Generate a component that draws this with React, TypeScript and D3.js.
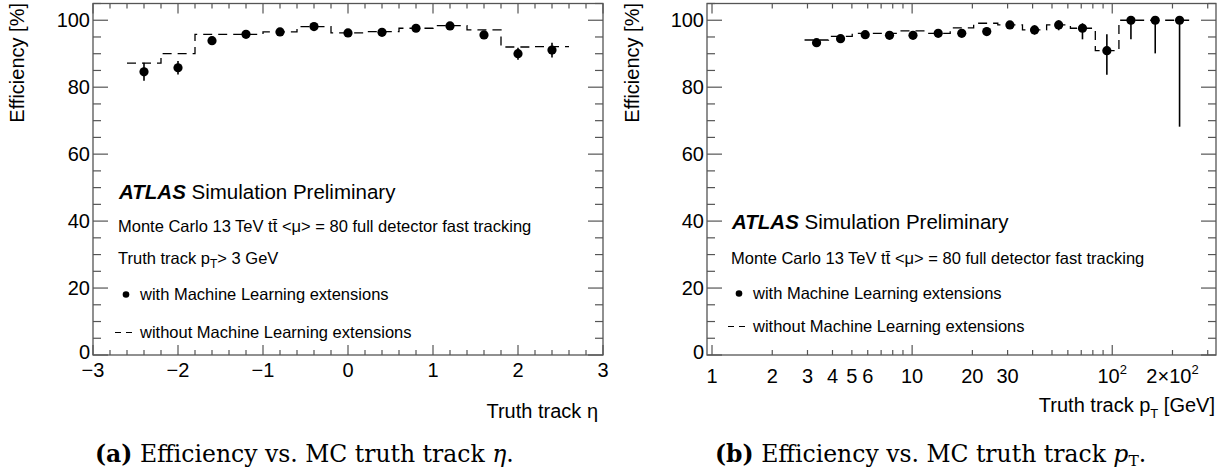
import * as d3 from "d3";

// ---- data ----
// (a) efficiency vs eta
const etaEdges = [-2.6, -2.2, -1.8, -1.4, -1.0, -0.6, -0.2, 0.2, 0.6, 1.0, 1.4, 1.8, 2.2, 2.6];
const etaCenters = [-2.4, -2.0, -1.6, -1.2, -0.8, -0.4, 0, 0.4, 0.8, 1.2, 1.6, 2.0, 2.4];
const etaEffML = [84.6, 85.8, 93.9, 95.8, 96.5, 98.1, 96.2, 96.4, 97.6, 98.3, 95.6, 90.0, 91.1];
const etaErrML = [2.7, 2.0, 1.0, 0.6, 0.6, 0.5, 0.5, 0.5, 0.5, 0.5, 0.7, 1.8, 2.2];
const etaEffNoML = [87.2, 90.0, 95.8, 95.8, 96.5, 98.1, 96.2, 96.6, 97.6, 98.4, 97.1, 92.0, 92.1];

// (b) efficiency vs pT
const ptEdges = [2.9, 3.82, 5.02, 6.7, 8.81, 11.6, 15.5, 20.3, 26.8, 35.6, 47.0, 61.8, 82.3, 108, 143, 188, 250];
const ptCenters = [3.33, 4.39, 5.83, 7.71, 10.1, 13.5, 17.7, 23.6, 30.8, 40.9, 54, 71, 94, 124, 164, 217];
const ptEffML = [93.3, 94.5, 95.7, 95.5, 95.5, 96.1, 96.1, 96.6, 98.6, 97.1, 98.6, 97.6, 90.9, 100, 100, 100];
const ptErrLo = [0.6, 0.6, 0.6, 0.6, 0.6, 0.6, 0.7, 1.2, 0.8, 1.4, 1.6, 3.3, 7.2, 5.7, 9.9, 31.8];
const ptErrHi = [0.6, 0.6, 0.6, 0.6, 0.6, 0.6, 0.7, 1.2, 0.8, 1.4, 1.4, 1.5, 4.9, 0, 0, 0];
const ptEffNoML = [94.1, 95.2, 96.1, 96.1, 96.8, 96.1, 97.7, 99.1, 98.6, 97.1, 98.6, 97.6, 90.9, 100, 100, 100];

const yTickLabels = ["0", "20", "40", "60", "80", "100"];
const etaTickLabels = ["−3", "−2", "−1", "0", "1", "2", "3"];
const ptLabelValues = [1, 2, 3, 4, 5, 6, 10, 20, 30, 100, 200];
const ptLabelTexts = ["1", "2", "3", "4", "5", "6", "10", "20", "30", "10^2", "2×10^2"];

const font = "'Liberation Sans', Arial, Helvetica, sans-serif";
const serif = "'DejaVu Serif', serif";
const frameCol = "#555";
const yTop = 3.5,
  yBottom = 355;
const labelSize = 20,
  legendSize = 16.5,
  captionSize = 23.5;

function YAxis({ x0, x1, yScale }) {
  const ticks = yScale.ticks(21);
  return (
    <g>
      {ticks.map((t) => {
        const major = t % 20 === 0;
        const len = major ? 15 : 8;
        return (
          <g key={t}>
            <line x1={x0} x2={x0 + len} y1={yScale(t)} y2={yScale(t)} stroke={frameCol} strokeWidth={1.2} />
            <line x1={x1} x2={x1 - len} y1={yScale(t)} y2={yScale(t)} stroke={frameCol} strokeWidth={1.2} />
          </g>
        );
      })}
      {yTickLabels.map((lab) => (
        <text
          key={lab}
          x={x0 - 3}
          y={yScale(+lab) - (lab === "0" ? 3 : 0)}
          dy="0.36em"
          textAnchor="end"
          fontSize={labelSize}
          fontFamily={font}
        >
          {lab}
        </text>
      ))}
    </g>
  );
}

function Frame({ x0, x1 }) {
  return (
    <rect x={x0} y={yTop} width={x1 - x0} height={yBottom - yTop} fill="none" stroke={frameCol} strokeWidth={1.3} />
  );
}

function stepPath(edges, values, xs, ys) {
  let d = `M${xs(edges[0])},${ys(values[0])}`;
  values.forEach((v, i) => {
    if (i > 0) d += `V${ys(v)}`;
    d += `H${xs(edges[i + 1])}`;
  });
  return d;
}

function Markers({ centers, values, lo, hi, xs, ys }) {
  return (
    <g>
      {centers.map((c, i) => (
        <g key={i}>
          <line
            x1={xs(c)}
            x2={xs(c)}
            y1={ys(values[i] - lo[i])}
            y2={ys(Math.min(values[i] + hi[i], 105))}
            stroke="black"
            strokeWidth={1.6}
          />
          <circle cx={xs(c)} cy={ys(values[i])} r={4.6} fill="black" />
        </g>
      ))}
    </g>
  );
}

function Legend({ x, yAtlas, lines, yWith, yWithout }) {
  return (
    <g fontFamily={font}>
      <text x={x} y={yAtlas} fontSize={20.5}>
        <tspan fontWeight="bold" fontStyle="italic">ATLAS</tspan>
        <tspan> Simulation Preliminary</tspan>
      </text>
      {lines.map((l, i) => (
        <text key={i} x={x - 1} y={l.y} fontSize={legendSize}>
          {l.parts}
        </text>
      ))}
      <circle cx={x + 7} cy={yWith - 5.5} r={3.3} fill="black" />
      <text x={x + 21} y={yWith} fontSize={legendSize}>
        with Machine Learning extensions
      </text>
      <line
        x1={x - 4}
        x2={x + 13}
        y1={yWithout - 5.5}
        y2={yWithout - 5.5}
        stroke="black"
        strokeWidth={1.2}
        strokeDasharray="6 5"
      />
      <text x={x + 21} y={yWithout} fontSize={legendSize}>
        without Machine Learning extensions
      </text>
    </g>
  );
}

const monteCarlo = (
  <>
    Monte Carlo 13 TeV t
    <tspan>t&#772;</tspan> &lt;μ&gt; = 80 full detector fast tracking
  </>
);

function EtaPanel() {
  const x0 = 93,
    x1 = 603;
  const xs = d3.scaleLinear().domain([-3, 3]).range([x0, x1]);
  const ys = d3.scaleLinear().domain([0, 105]).range([yBottom, yTop]);
  const minor = xs.ticks(30);
  return (
    <g>
      {minor.map((t) => {
        const major = Math.abs(t - Math.round(t)) < 1e-6;
        const len = major ? 10 : 5;
        return (
          <g key={t}>
            <line x1={xs(t)} x2={xs(t)} y1={yBottom} y2={yBottom - len} stroke={frameCol} strokeWidth={1.2} />
            <line x1={xs(t)} x2={xs(t)} y1={yTop} y2={yTop + len} stroke={frameCol} strokeWidth={1.2} />
          </g>
        );
      })}
      {etaTickLabels.map((lab, i) => (
        <text key={lab} x={xs(i - 3)} y={377} textAnchor="middle" fontSize={labelSize} fontFamily={font}>
          {lab}
        </text>
      ))}
      <YAxis x0={x0} x1={x1} yScale={ys} />
      <path d={stepPath(etaEdges, etaEffNoML, xs, ys)} fill="none" stroke="black" strokeWidth={1.3} strokeDasharray="9 6" />
      <Markers centers={etaCenters} values={etaEffML} lo={etaErrML} hi={etaErrML} xs={xs} ys={ys} />
      <Frame x0={x0} x1={x1} />
      <Legend
        x={119}
        yAtlas={199}
        lines={[
          { y: 232, parts: monteCarlo },
          {
            y: 264,
            parts: (
              <>
                Truth track p<tspan dy={4} fontSize={12}>T</tspan>
                <tspan dy={-4}>&gt; 3 GeV</tspan>
              </>
            ),
          },
        ]}
        yWith={300}
        yWithout={338}
      />
      <text transform="translate(24,3) rotate(-90)" textAnchor="end" fontSize={labelSize} fontFamily={font}>
        Efficiency [%]
      </text>
      <text x={598} y={418} textAnchor="end" fontSize={labelSize} fontFamily={font}>
        Truth track η
      </text>
      <text x={95} y={462} fontSize={captionSize} fontFamily={serif}>
        <tspan fontWeight="bold">(a)</tspan> Efficiency vs. MC truth track <tspan fontStyle="italic">η</tspan>.
      </text>
    </g>
  );
}

function PtPanel() {
  const x0 = 707,
    x1 = 1216;
  const xs = d3.scaleLog().domain([0.944, 330]).range([x0, x1]);
  const ys = d3.scaleLinear().domain([0, 105]).range([yBottom, yTop]);
  const ticks = xs.ticks();
  return (
    <g>
      {ticks.map((t) => {
        const major = Math.abs(Math.log10(t) - Math.round(Math.log10(t))) < 1e-6;
        const len = major ? 10 : 5;
        return (
          <g key={t}>
            <line x1={xs(t)} x2={xs(t)} y1={yBottom} y2={yBottom - len} stroke={frameCol} strokeWidth={1.2} />
            <line x1={xs(t)} x2={xs(t)} y1={yTop} y2={yTop + len} stroke={frameCol} strokeWidth={1.2} />
          </g>
        );
      })}
      {ptLabelValues.map((v, i) => {
        const [base, exp] = ptLabelTexts[i].split("^");
        return (
          <text key={v} x={xs(v)} y={383} textAnchor="middle" fontSize={labelSize} fontFamily={font}>
            {base}
            {exp && (
              <tspan dy={-9} fontSize={13}>
                {exp}
              </tspan>
            )}
          </text>
        );
      })}
      <YAxis x0={x0} x1={x1} yScale={ys} />
      <path d={stepPath(ptEdges, ptEffNoML, xs, ys)} fill="none" stroke="black" strokeWidth={1.3} strokeDasharray="9 6" />
      <Markers centers={ptCenters} values={ptEffML} lo={ptErrLo} hi={ptErrHi} xs={xs} ys={ys} />
      <Frame x0={x0} x1={x1} />
      <Legend x={732} yAtlas={229} lines={[{ y: 264, parts: monteCarlo }]} yWith={299} yWithout={332} />
      <text transform="translate(639,3) rotate(-90)" textAnchor="end" fontSize={labelSize} fontFamily={font}>
        Efficiency [%]
      </text>
      <text x={1215} y={412} textAnchor="end" fontSize={labelSize} fontFamily={font}>
        Truth track p<tspan dy={6} fontSize={13}>T</tspan>
        <tspan dy={-6}> [GeV]</tspan>
      </text>
      <text x={715} y={462} fontSize={captionSize} fontFamily={serif}>
        <tspan fontWeight="bold">(b)</tspan> Efficiency vs. MC truth track <tspan fontStyle="italic">p</tspan>
        <tspan dy={4} fontSize={15.5}>T</tspan>
        <tspan dy={-4}>.</tspan>
      </text>
    </g>
  );
}

export default function App() {
  return (
    <svg
      width={1231}
      height={474}
      viewBox="0 0 1231 474"
      style={{ position: "absolute", left: 0, top: 0, background: "white" }}
    >
      <rect width={1231} height={474} fill="white" />
      <EtaPanel />
      <PtPanel />
    </svg>
  );
}
